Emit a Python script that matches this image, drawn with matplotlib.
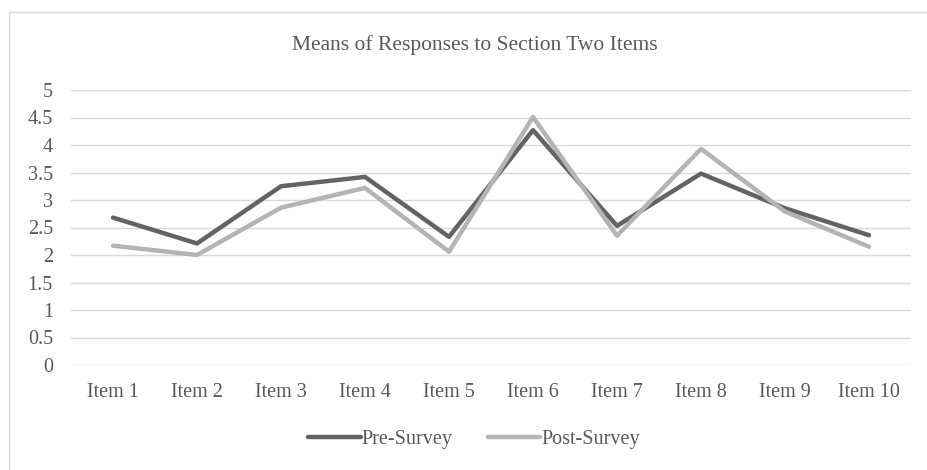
import matplotlib
matplotlib.use("Agg")
import matplotlib.pyplot as plt
from matplotlib.patches import Rectangle

categories = ["Item 1", "Item 2", "Item 3", "Item 4", "Item 5",
              "Item 6", "Item 7", "Item 8", "Item 9", "Item 10"]
pre_survey = [2.68, 2.21, 3.25, 3.42, 2.33, 4.27, 2.53, 3.48, 2.85, 2.36]
post_survey = [2.17, 2.00, 2.86, 3.22, 2.06, 4.51, 2.35, 3.93, 2.79, 2.15]
y_ticks = [0, 0.5, 1, 1.5, 2, 2.5, 3, 3.5, 4, 4.5, 5]
y_tick_labels = ["0", "0.5", "1", "1.5", "2", "2.5", "3", "3.5", "4", "4.5", "5"]

plt.rcParams["font.family"] = ["Liberation Serif", "DejaVu Serif"]
text_color = "#595959"

fig = plt.figure(figsize=(9.27, 4.70), dpi=100)
ax = fig.add_axes([71 / 927, 1 - 365 / 470, 840 / 927, 275 / 470])

x = list(range(len(categories)))
ax.plot(x, pre_survey, color="#636363", lw=3.2, solid_capstyle="round",
        solid_joinstyle="round", label="Pre-Survey", zorder=3)
ax.plot(x, post_survey, color="#b4b4b4", lw=3.2, solid_capstyle="round",
        solid_joinstyle="round", label="Post-Survey", zorder=3)

ax.set_xlim(-0.5, len(categories) - 0.5)
ax.set_ylim(0, 5)
ax.set_yticks(y_ticks)
ax.set_yticklabels(y_tick_labels)
ax.set_xticks(x)
ax.set_xticklabels(categories)
ax.grid(axis="y", color="#d9d9d9", lw=1.0)
ax.set_axisbelow(True)
for side in ["top", "right", "left", "bottom"]:
    ax.spines[side].set_visible(False)
ax.tick_params(axis="both", length=0, labelsize=14.5, colors=text_color)
ax.tick_params(axis="y", pad=13)
ax.tick_params(axis="x", pad=13)

fig.text(0.5 * (291 + 658) / 927, 1 - 45 / 470,
         "Means of Responses to Section Two Items",
         ha="center", va="center", fontsize=15.5, color=text_color)

leg = fig.legend(loc="center", bbox_to_anchor=(474 / 927, 1 - 439 / 470),
                 ncol=2, frameon=False, fontsize=14.5, handlelength=2.6,
                 handletextpad=0.05, columnspacing=1.75)
for t in leg.get_texts():
    t.set_color(text_color)

fig.patches.append(Rectangle((9 / 927, -0.01), 1.0, 1 - 12 / 470 + 0.01,
                             transform=fig.transFigure, fill=False,
                             edgecolor="#d9d9d9", lw=1.0))

fig.savefig("out.png", dpi=100, facecolor="white")
